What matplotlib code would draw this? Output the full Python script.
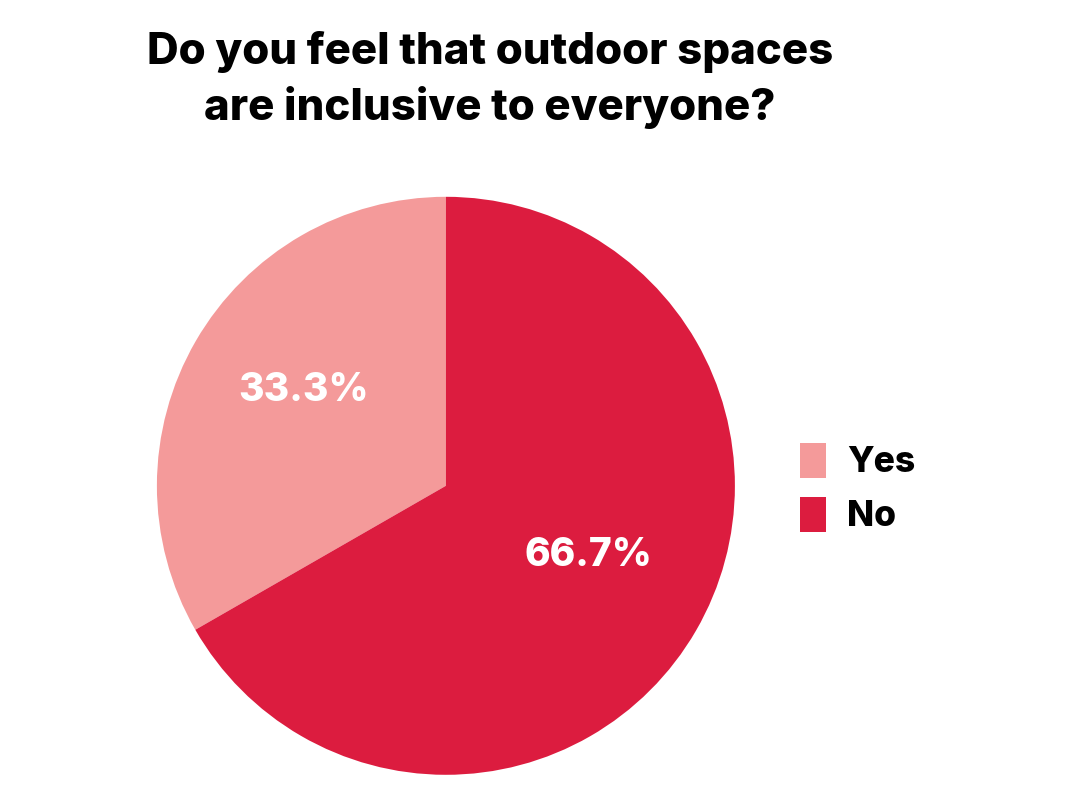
import matplotlib.pyplot as plt
from matplotlib.patches import Patch

labels = ['Yes', 'No']
values = [33.3, 66.7]
colors = ['#F49A9A', '#DC1C3F']

plt.rcParams['font.family'] = ['Inter', 'DejaVu Sans']

fig = plt.figure(figsize=(10.67, 8), dpi=100)
ax = fig.add_axes([0.147, 0.0315, 0.5418, 0.7225])

wedges, texts, autotexts = ax.pie(values, colors=colors, startangle=90, counterclock=True,
                                  autopct='%.1f%%', pctdistance=0.57,
                                  textprops=dict(color='white', fontsize=28, fontweight='heavy'))
# nudge percentage labels up a bit
for t in autotexts:
    x, y = t.get_position()
    t.set_position((x, y + 0.045))
ax.set_xlim(-1, 1)
ax.set_ylim(-1, 1)
ax.set_aspect('equal')

fig.text(0.459, 0.9, 'Do you feel that outdoor spaces\nare inclusive to everyone?',
         ha='center', va='center', fontsize=31.5, fontweight='heavy', linespacing=1.4)

handles = [Patch(facecolor=c, label=l) for c, l in zip(colors, labels)]
fig.legend(handles=handles, loc='center left', bbox_to_anchor=(0.72, 0.39),
           frameon=False, prop=dict(weight='heavy', size=25.5),
           handlelength=0.72, handleheight=1.15, handletextpad=0.6, labelspacing=0.5)

fig.savefig('out.png', dpi=100)
